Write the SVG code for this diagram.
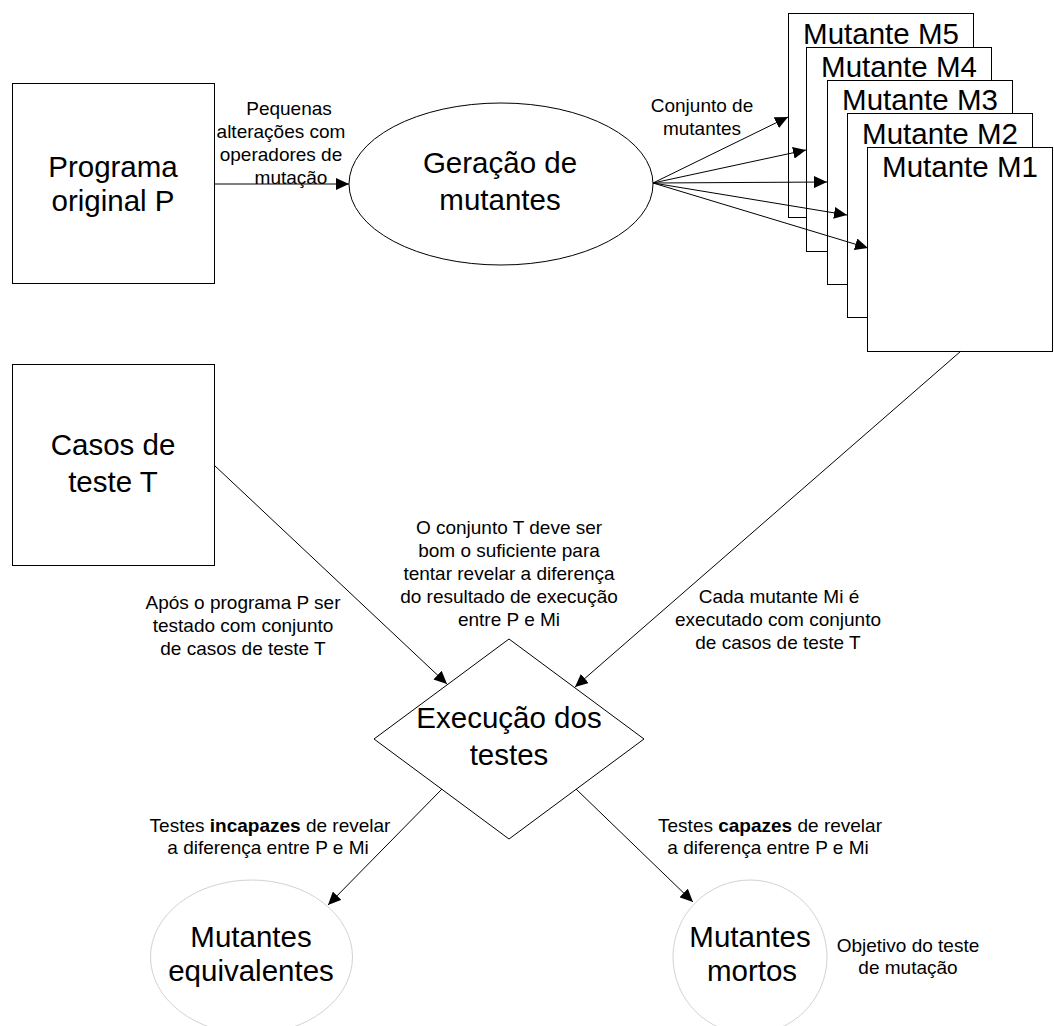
<svg xmlns="http://www.w3.org/2000/svg" width="1054" height="1026" viewBox="0 0 1054 1026">
  <style>
    .shape { fill: #ffffff; stroke: #000000; stroke-width: 1; }
    .faint { fill: #ffffff; stroke: #d2d2d2; stroke-width: 1; }
    .big { font-family: "Liberation Sans", Arial, sans-serif; font-size: 29.5px; fill: #000000; text-anchor: middle; }
    .small { font-family: "Liberation Sans", Arial, sans-serif; font-size: 19px; fill: #000000; text-anchor: middle; }
    .edge { fill: none; stroke: #000000; stroke-width: 1; marker-end: url(#arrow); }
    .bold { font-weight: bold; }
  </style>
  <defs>
    <marker id="arrow" markerUnits="userSpaceOnUse" markerWidth="14" markerHeight="12" refX="13" refY="6" orient="auto">
      <path d="M0,0 L13,6 L0,12 z" fill="#000000"/>
    </marker>
  </defs>
  <rect width="1054" height="1026" fill="#ffffff"/>

  <g id="programa-original">
    <rect class="shape" x="12.5" y="83.5" width="202" height="200"/>
    <text class="big" x="113" y="177">Programa</text>
    <text class="big" x="113" y="211">original P</text>
  </g>

  <g id="geracao-mutantes">
    <ellipse class="shape" cx="501" cy="184" rx="152" ry="81"/>
    <text class="big" x="500" y="173">Geração de</text>
    <text class="big" x="500" y="210">mutantes</text>
  </g>

  <g id="mutante-m5">
    <rect class="shape" x="788.5" y="13.5" width="185" height="204"/>
    <text class="big" x="881" y="44">Mutante M5</text>
  </g>
  <g id="mutante-m4">
    <rect class="shape" x="806.5" y="47.5" width="185" height="204"/>
    <text class="big" x="899" y="77">Mutante M4</text>
  </g>
  <g id="mutante-m3">
    <rect class="shape" x="827.5" y="80.5" width="185" height="204"/>
    <text class="big" x="920" y="110">Mutante M3</text>
  </g>
  <g id="mutante-m2">
    <rect class="shape" x="847.5" y="113.5" width="185" height="204"/>
    <text class="big" x="940" y="144">Mutante M2</text>
  </g>
  <g id="mutante-m1">
    <rect class="shape" x="867.5" y="147.5" width="185" height="204"/>
    <text class="big" x="960" y="177">Mutante M1</text>
  </g>

  <g id="casos-teste">
    <rect class="shape" x="12.5" y="364.5" width="202" height="201"/>
    <text class="big" x="113" y="455">Casos de</text>
    <text class="big" x="113" y="492">teste T</text>
  </g>

  <g id="execucao-testes">
    <polygon class="shape" points="509,639 644,739 509,839 374,739"/>
    <text class="big" x="509" y="728">Execução dos</text>
    <text class="big" x="509" y="765">testes</text>
  </g>

  <g id="mutantes-equivalentes">
    <ellipse class="faint" cx="251.5" cy="957" rx="101" ry="77"/>
    <text class="big" x="251" y="947">Mutantes</text>
    <text class="big" x="251" y="981">equivalentes</text>
  </g>

  <g id="mutantes-mortos">
    <ellipse class="faint" cx="750" cy="957" rx="77" ry="77"/>
    <text class="big" x="750" y="947">Mutantes</text>
    <text class="big" x="752" y="981">mortos</text>
  </g>

  <g id="connectors">
    <line class="edge" x1="214" y1="184" x2="349" y2="184"/>
    <line class="edge" x1="653" y1="183" x2="788" y2="117"/>
    <line class="edge" x1="653" y1="183" x2="806" y2="150"/>
    <line class="edge" x1="653" y1="183" x2="827" y2="182"/>
    <line class="edge" x1="653" y1="183" x2="847" y2="215"/>
    <line class="edge" x1="653" y1="183" x2="868" y2="248"/>
    <line class="edge" x1="214" y1="465" x2="447" y2="684"/>
    <line class="edge" x1="961" y1="351" x2="575" y2="687"/>
    <line class="edge" x1="442" y1="789" x2="328" y2="905"/>
    <line class="edge" x1="576" y1="789" x2="693" y2="902"/>
  </g>

  <g id="labels">
    <text class="small" x="289" y="115">Pequenas</text>
    <text class="small" x="281" y="138">alterações com</text>
    <text class="small" x="281" y="161">operadores de</text>
    <text class="small" x="291" y="184">mutação</text>

    <text class="small" x="702" y="112">Conjunto de</text>
    <text class="small" x="702" y="135">mutantes</text>

    <text class="small" x="509" y="534">O conjunto T deve ser</text>
    <text class="small" x="509" y="557">bom o suficiente para</text>
    <text class="small" x="509" y="580">tentar revelar a diferença</text>
    <text class="small" x="509" y="603">do resultado de execução</text>
    <text class="small" x="509" y="626">entre P e Mi</text>

    <text class="small" x="243" y="609">Após o programa P ser</text>
    <text class="small" x="243" y="632">testado com conjunto</text>
    <text class="small" x="243" y="655">de casos de teste T</text>

    <text class="small" x="779" y="603">Cada mutante Mi é</text>
    <text class="small" x="778" y="626">executado com conjunto</text>
    <text class="small" x="778" y="649">de casos de teste T</text>

    <text class="small" x="270" y="832">Testes <tspan class="bold">incapazes</tspan> de revelar</text>
    <text class="small" x="268" y="854">a diferença entre P e Mi</text>

    <text class="small" x="770" y="832">Testes <tspan class="bold">capazes</tspan> de revelar</text>
    <text class="small" x="768" y="854">a diferença entre P e Mi</text>

    <text class="small" x="908" y="952">Objetivo do teste</text>
    <text class="small" x="908" y="974">de mutação</text>
  </g>
</svg>
